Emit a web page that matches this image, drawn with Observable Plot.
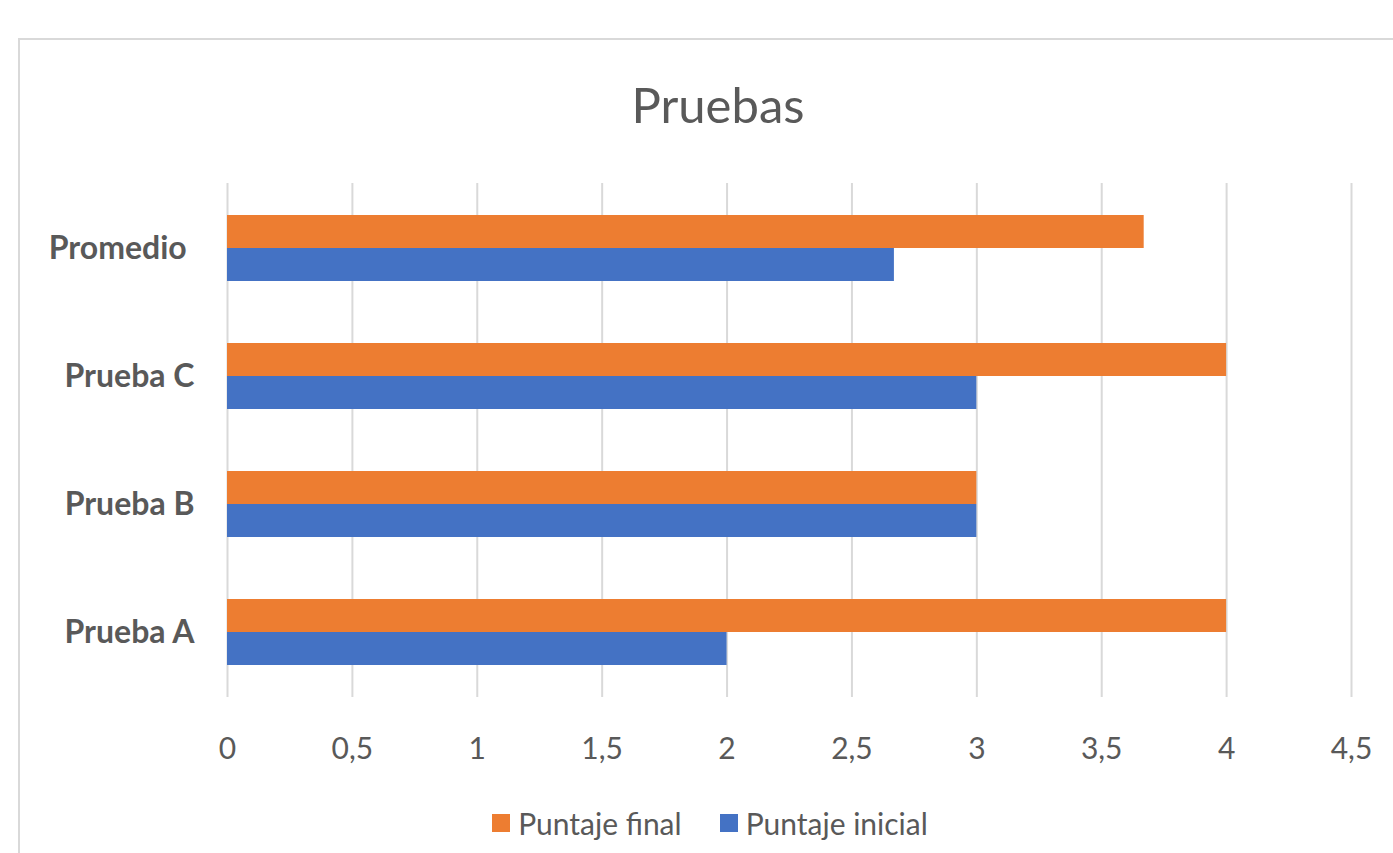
<!DOCTYPE html>
<html><head><meta charset="utf-8">
<script src="https://cdn.jsdelivr.net/npm/d3@7"></script>
<script src="https://cdn.jsdelivr.net/npm/@observablehq/plot@0.6"></script>
<style>
body{margin:0;background:#fff;overflow:hidden;width:1393px;height:853px;position:relative;font-family:Lato,sans-serif;}
#frame{position:absolute;left:18px;top:38px;width:1400px;height:900px;border:2.5px solid #d9d9d9;box-sizing:border-box;}
#title{position:absolute;left:18px;width:1400px;top:80px;line-height:49px;text-align:center;font-size:49px;color:#595959;}
#chart{position:absolute;left:0;top:160px;}
#legend{position:absolute;left:10px;width:1400px;top:808px;height:30px;line-height:30px;display:flex;justify-content:center;align-items:center;font-size:30px;color:#595959;}
.item{display:flex;align-items:center;margin:0 19px;}
.sw{width:18px;height:18px;margin-right:8px;}
</style></head>
<body>
<div id="frame"></div>
<div id="title">Pruebas</div>
<div id="chart"></div>
<div id="legend"></div>
<script>
const categories = ["Prueba A", "Prueba B", "Prueba C", "Promedio"];
const puntajeInicial = [2, 3, 3, 2.67];
const puntajeFinal = [4, 3, 4, 3.67];
const xTicks = [0, 0.5, 1, 1.5, 2, 2.5, 3, 3.5, 4, 4.5];
const seriesNames = ["Puntaje final", "Puntaje inicial"];
const seriesColors = ["#ED7D31", "#4472C4"];

const rowsFinal = categories.map((c, i) => ({cat: c, value: puntajeFinal[i]}));
const rowsInicial = categories.map((c, i) => ({cat: c, value: puntajeInicial[i]}));

const fmt = d => String(d).replace(".", ",");

const chart = Plot.plot({
  width: 1393, height: 617,
  marginLeft: 227, marginRight: 42, marginTop: 23, marginBottom: 80,
  style: {fontFamily: "Lato, sans-serif", background: "transparent"},
  x: {domain: [0, 4.5], label: null},
  y: {domain: categories.slice().reverse(), paddingInner: 0.486, paddingOuter: 0.243, label: null},
  marks: [
    Plot.gridX(xTicks, {stroke: "#d9d9d9", strokeOpacity: 1, strokeWidth: 2}),
    Plot.barX(rowsFinal, {y: "cat", x: "value", fill: seriesColors[0], insetBottom: 33}),
    Plot.barX(rowsInicial, {y: "cat", x: "value", fill: seriesColors[1], insetTop: 33}),
    Plot.axisX({ticks: xTicks, tickFormat: fmt, tickSize: 0, tickPadding: 40, fontSize: 30, fill: "#595959", label: null}),
    Plot.axisY({tickSize: 0, tickPadding: 33, fontSize: 32, fontWeight: "bold", fill: "#595959", label: null,
      tickFormat: d => d === "Promedio" ? "Promedio\u00a0" : d})
  ]
});
document.getElementById("chart").appendChild(chart);

const legend = document.getElementById("legend");
seriesNames.forEach((n, i) => {
  const it = document.createElement("div");
  it.className = "item";
  it.innerHTML = `<span class="sw" style="background:${seriesColors[i]}"></span><span>${n}</span>`;
  legend.appendChild(it);
});
</script>
</body></html>
